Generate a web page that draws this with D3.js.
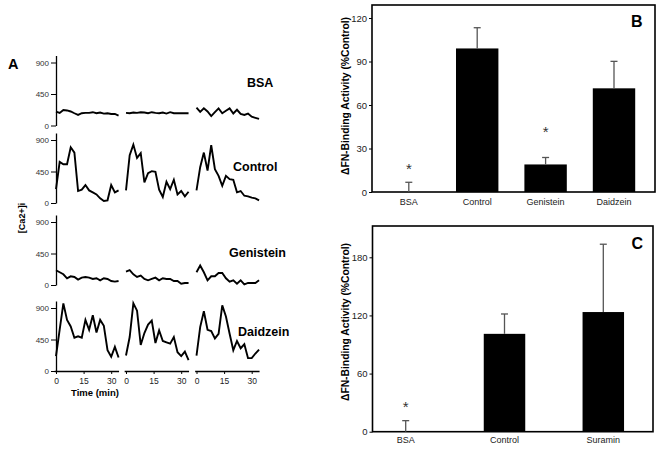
<!DOCTYPE html>
<html>
<head>
<meta charset="utf-8">
<script src="https://cdn.jsdelivr.net/npm/d3@7"></script>
<style>
  body { margin: 0; background: #fff; }
  svg { display: block; }
  text { font-family: "Liberation Sans", Arial, Helvetica, sans-serif; }
</style>
</head>
<body>
<div id="chart"></div>
<script>
// ---- data ----
// panel A: [Ca2+]i traces, three cells per condition, sampled every 2 min
const minutes = [0, 2, 4, 6, 8, 10, 12, 14, 16, 18, 20, 22, 24, 26, 28, 30, 32, 34];
const caTicks = [0, 450, 900];
const timeTicks = [0, 15, 30];
const conditions = ["BSA", "Control", "Genistein", "Daidzein"];

const bsaCa = [
  [199, 180, 220, 215, 200, 175, 152, 175, 180, 180, 190, 175, 185, 170, 175, 165, 165, 142],
  [180, 175, 185, 180, 190, 185, 175, 190, 180, 175, 185, 170, 190, 175, 175, 175, 175, 175],
  [255, 195, 245, 200, 135, 190, 245, 175, 210, 245, 172, 225, 165, 150, 170, 125, 110, 95]
];
const controlCa = [
  [199, 587, 554, 554, 796, 720, 171, 190, 256, 180, 152, 123, 66, 28, 38, 256, 152, 180],
  [180, 682, 834, 644, 711, 294, 426, 455, 445, 190, 85, 303, 199, 332, 123, 171, 95, 161],
  [180, 512, 720, 464, 825, 483, 388, 246, 388, 341, 332, 152, 171, 104, 95, 76, 66, 38]
];
const genisteinCa = [
  [211, 182, 153, 96, 124, 115, 77, 105, 115, 105, 86, 96, 67, 96, 86, 57, 48, 57],
  [191, 211, 153, 115, 134, 86, 67, 86, 105, 67, 96, 86, 86, 57, 57, 19, 29, 29],
  [182, 278, 182, 67, 124, 124, 172, 172, 96, 48, 67, 19, 67, 10, 29, 29, 29, 67]
];
const daidzeinCa = [
  [212, 590, 966, 730, 636, 476, 495, 476, 730, 589, 796, 551, 730, 646, 297, 203, 344, 193],
  [221, 485, 966, 862, 372, 542, 664, 721, 400, 580, 429, 410, 391, 485, 269, 212, 278, 156],
  [221, 627, 853, 589, 570, 466, 532, 938, 778, 532, 297, 429, 325, 382, 184, 184, 250, 306]
];
const traces = [bsaCa, controlCa, genisteinCa, daidzeinCa];

// panel B
const bCategories = ["BSA", "Control", "Genistein", "Daidzein"];
const bMeans = [0, 99, 19, 71.5];
const bErrors = [6.7, 14.3, 4.8, 18.6];
const bStars = [18, null, 43.5, null];
const bTicks = [0, 30, 60, 90, 120];

// panel C
const cCategories = ["BSA", "Control", "Suramin"];
const cMeans = [0, 101, 123.5];
const cErrors = [11.4, 20.5, 70];
const cStars = [28.5, null, null];
const cTicks = [0, 60, 120, 180];

// ---- drawing ----
const width = 666;
const height = 452;

const svg = d3.select("#chart")
  .append("svg")
  .attr("width", width)
  .attr("height", height);

// panel A layout
const rowZero = [125.5, 203, 285, 371];
const segStart = [56, 126, 196.5];
const labelPos = [[247, 86.5], [233, 171], [229, 257], [238, 336]];

const xT = d3.scaleLinear().domain([-1, 34]).range([-1.84, 62.56]);

function styleAxis(g, size, color) {
  g.select(".domain").attr("stroke", "#000").attr("stroke-width", 1.3);
  g.selectAll(".tick line").attr("stroke", "#000").attr("stroke-width", 1);
  g.selectAll(".tick text")
    .attr("fill", color)
    .style("font-size", size + "px")
    .style("font-family", '"Liberation Sans", Arial, sans-serif');
}

traces.forEach((cells, i) => {
  const y = d3.scaleLinear().domain([0, 1000]).range([rowZero[i], rowZero[i] - 70]);

  svg.append("g")
    .attr("transform", "translate(56,0)")
    .call(d3.axisLeft(y).tickValues(caTicks).tickSize(5).tickSizeOuter(0).tickPadding(2))
    .call(g => styleAxis(g, 8, "#333"));

  const line = d3.line()
    .x((d, k) => xT(minutes[k]))
    .y(d => y(d));

  cells.forEach((vals, s) => {
    svg.append("path")
      .datum(vals)
      .attr("transform", `translate(${segStart[s]},0)`)
      .attr("d", line)
      .attr("fill", "none")
      .attr("stroke", "#000")
      .attr("stroke-width", 1.9)
      .attr("stroke-linejoin", "miter");
  });

  svg.append("text")
    .attr("x", labelPos[i][0])
    .attr("y", labelPos[i][1])
    .attr("font-size", 12.5)
    .attr("font-weight", "bold")
    .text(conditions[i]);
});

// time axes under the last row
segStart.forEach(x0 => {
  svg.append("g")
    .attr("transform", `translate(${x0},${rowZero[3]})`)
    .call(d3.axisBottom(xT).tickValues(timeTicks).tickSize(3).tickSizeOuter(0).tickPadding(4))
    .call(g => styleAxis(g, 8.5, "#222"));
});

svg.append("text")
  .attr("x", 95).attr("y", 396)
  .attr("text-anchor", "middle")
  .attr("font-size", 9.5)
  .attr("font-weight", "bold")
  .text("Time (min)");

svg.append("text")
  .attr("transform", "translate(25,218) rotate(-90)")
  .attr("text-anchor", "middle")
  .attr("font-size", 9)
  .attr("font-weight", "bold")
  .text("[Ca2+]i");

svg.append("text")
  .attr("x", 8).attr("y", 69)
  .attr("font-size", 14.5)
  .attr("font-weight", "bold")
  .text("A");

// bar panels
function barPanel(p) {
  const y = d3.scaleLinear().domain(p.domain).range([p.bottom, p.top0]);
  const x = d3.scaleBand(p.categories, p.xRange).paddingInner(p.pad).paddingOuter(p.pad / 2);

  // frame
  svg.append("rect")
    .attr("x", p.left).attr("y", p.frameTop)
    .attr("width", p.right - p.left).attr("height", p.bottom - p.frameTop)
    .attr("fill", "none").attr("stroke", "#000").attr("stroke-width", 1.6);

  svg.append("g")
    .attr("transform", `translate(${p.left},0)`)
    .call(d3.axisLeft(y).tickValues(p.ticks).tickSize(3).tickSizeOuter(0).tickPadding(2))
    .call(g => g.select(".domain").remove())
    .call(g => styleAxis(g, 9.5, "#222"));

  svg.append("g")
    .selectAll("rect")
    .data(p.means)
    .join("rect")
    .attr("x", (d, i) => x(p.categories[i]))
    .attr("y", d => y(d))
    .attr("width", x.bandwidth())
    .attr("height", d => p.bottom - y(d))
    .attr("fill", "#000");

  const err = svg.append("g").attr("stroke", "#555").attr("stroke-width", 1.3);
  p.means.forEach((m, i) => {
    const cx = x(p.categories[i]) + x.bandwidth() / 2;
    err.append("line")
      .attr("x1", cx).attr("x2", cx)
      .attr("y1", y(m)).attr("y2", y(m + p.errors[i]));
    err.append("line")
      .attr("x1", cx - 3.5).attr("x2", cx + 3.5)
      .attr("y1", y(m + p.errors[i])).attr("y2", y(m + p.errors[i]));
  });

  p.stars.forEach((s, i) => {
    if (s === null) return;
    svg.append("text")
      .attr("x", x(p.categories[i]) + x.bandwidth() / 2)
      .attr("y", y(s) + 8)
      .attr("text-anchor", "middle")
      .attr("font-size", 15)
      .attr("fill", "#333")
      .text("*");
  });

  svg.append("g")
    .attr("transform", `translate(0,${p.bottom})`)
    .call(d3.axisBottom(x).tickSize(0).tickPadding(p.labelPad))
    .call(g => g.select(".domain").remove())
    .call(g => styleAxis(g, 9, "#222"));

  svg.append("text")
    .attr("transform", `translate(349,${p.titleY}) rotate(-90)`)
    .attr("text-anchor", "middle")
    .attr("font-size", 10.3)
    .attr("font-weight", "bold")
    .text("\u0394FN-Binding Activity (%Control)");

  svg.append("text")
    .attr("x", p.letterX).attr("y", p.letterY)
    .attr("font-size", 16)
    .attr("font-weight", "bold")
    .text(p.letter);
}

barPanel({
  categories: bCategories, means: bMeans, errors: bErrors, stars: bStars, ticks: bTicks,
  domain: [0, 120], bottom: 192, top0: 18, frameTop: 5,
  left: 372, right: 655, xRange: [374.6, 648.2], pad: 0.38, labelPad: 6.5,
  titleY: 96, letter: "B", letterX: 631, letterY: 26.5
});

barPanel({
  categories: cCategories, means: cMeans, errors: cErrors, stars: cStars, ticks: cTicks,
  domain: [0, 180], bottom: 431.7, top0: 257.3, frameTop: 226,
  left: 372.5, right: 653, xRange: [356.3, 652.7], pad: 0.58, labelPad: 5,
  titleY: 322, letter: "C", letterX: 631.5, letterY: 249
});
</script>
</body>
</html>
